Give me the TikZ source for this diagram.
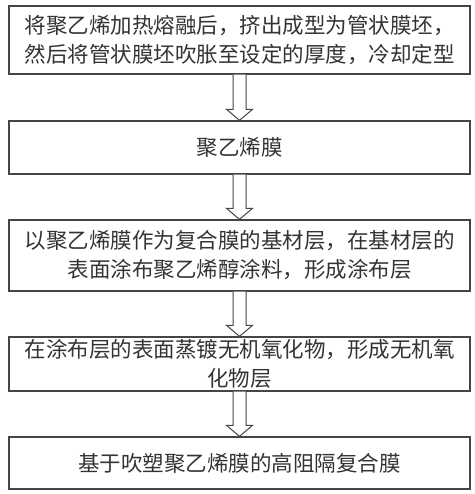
\documentclass[tikz,border=0pt]{standalone}
\usepackage{fontspec}
\setmainfont{Noto Sans CJK SC}
\usetikzlibrary{calc}
\definecolor{boxline}{HTML}{454545}
\definecolor{boxtext}{HTML}{333333}
\tikzset{
  stepbox/.style={draw=boxline, line width=1.3pt, minimum width=461pt, text width=452pt,
    align=center, inner sep=0pt, text=boxtext, font=\fontsize{21.5pt}{29pt}\selectfont},
  hollowarrow/.style={draw=boxline, line width=1pt, fill=white, line join=miter}
}
\begin{document}
\begin{tikzpicture}[x=1pt,y=-1pt]
\useasboundingbox (0,0) rectangle (474,494);
%process steps
\node[stepbox, minimum height=68pt] (b1) at (239.5,40)
  {将聚乙烯加热熔融后，挤出成型为管状膜坯，\\然后将管状膜坯吹胀至设定的厚度，冷却定型};
\node[stepbox, minimum height=53pt] (b2) at (239.5,147.5) {聚乙烯膜};
\node[stepbox, minimum height=71pt] (b3) at (239.5,255.5)
  {以聚乙烯膜作为复合膜的基材层，在基材层的\\表面涂布聚乙烯醇涂料，形成涂布层};
\node[stepbox, minimum height=54pt] (b4) at (239.5,364)
  {在涂布层的表面蒸镀无机氧化物，形成无机氧\\化物层};
\node[stepbox, minimum height=52pt] (b5) at (239.5,463) {基于吹塑聚乙烯膜的高阻隔复合膜};
%hollow arrows between the steps
\foreach \a/\b in {b1/b2,b2/b3,b3/b4,b4/b5}
  \draw[hollowarrow] ($(\a.south)+(-6.5,0)$) -- ($(\b.north)+(-6.5,-11)$)
    -- ($(\b.north)+(-13,-11)$) -- (\b.north) -- ($(\b.north)+(13,-11)$)
    -- ($(\b.north)+(6.5,-11)$) -- ($(\a.south)+(6.5,0)$);
\end{tikzpicture}
\end{document}
